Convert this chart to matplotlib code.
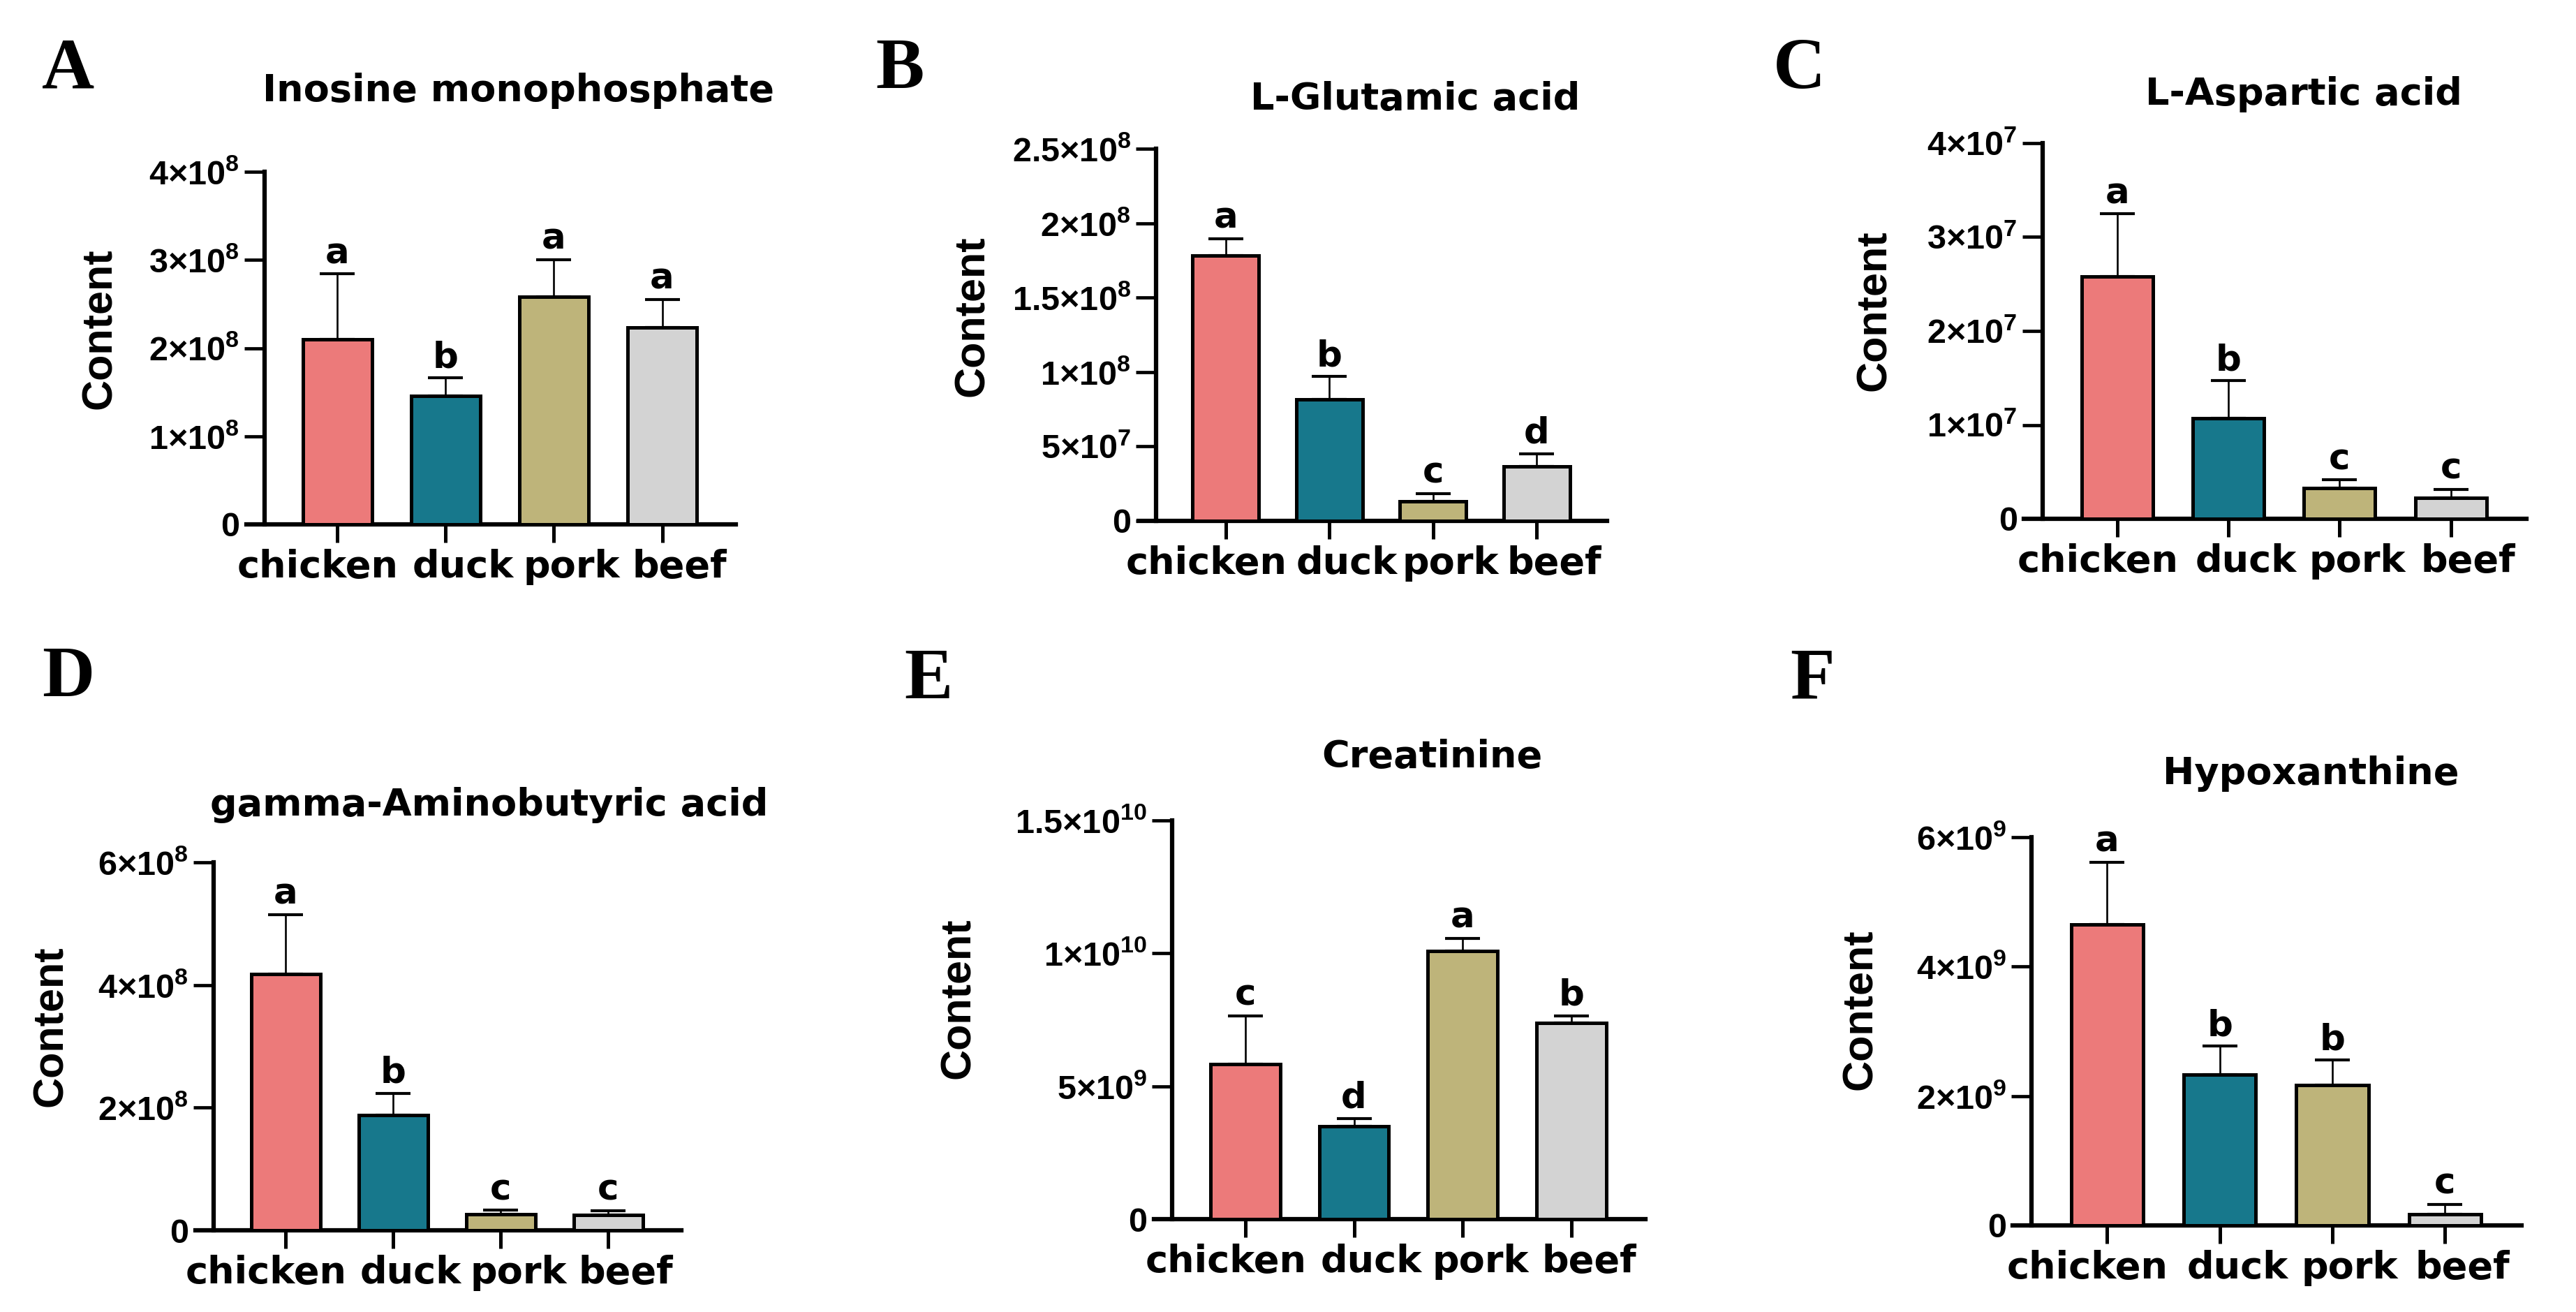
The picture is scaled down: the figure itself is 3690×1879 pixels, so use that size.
import matplotlib
matplotlib.use('Agg')
import matplotlib.pyplot as plt
import numpy as np
from matplotlib.transforms import ScaledTranslation

plt.rcParams['mathtext.fontset'] = 'custom'
plt.rcParams['mathtext.rm'] = 'Liberation Sans'
plt.rcParams['mathtext.bf'] = 'Liberation Sans:bold'
plt.rcParams['mathtext.it'] = 'Liberation Sans:italic'

W, H, DPI = 3690, 1879, 100

# ---------------- data ----------------
categories = ['chicken', 'duck', 'pork', 'beef']
bar_colors = ['#EC7A7A', '#17788C', '#BEB47A', '#D3D3D3']

imp_title = 'Inosine monophosphate'
imp_mean = [2.10e8, 1.46e8, 2.58e8, 2.23e8]
imp_err = [0.74e8, 0.20e8, 0.42e8, 0.32e8]
imp_sig = ['a', 'b', 'a', 'a']
imp_yticks = [0, 1e8, 2e8, 3e8, 4e8]
imp_yticklabels = ['0', r'$\mathbf{1{\times}10^{8}}$', r'$\mathbf{2{\times}10^{8}}$',
                   r'$\mathbf{3{\times}10^{8}}$', r'$\mathbf{4{\times}10^{8}}$']

glu_title = 'L-Glutamic acid'
glu_mean = [1.784e8, 0.815e8, 0.132e8, 0.365e8]
glu_err = [0.112e8, 0.154e8, 0.051e8, 0.084e8]
glu_sig = ['a', 'b', 'c', 'd']
glu_yticks = [0, 5e7, 1e8, 1.5e8, 2e8, 2.5e8]
glu_yticklabels = ['0', r'$\mathbf{5{\times}10^{7}}$', r'$\mathbf{1{\times}10^{8}}$',
                   r'$\mathbf{1.5{\times}10^{8}}$', r'$\mathbf{2{\times}10^{8}}$',
                   r'$\mathbf{2.5{\times}10^{8}}$']

asp_title = 'L-Aspartic acid'
asp_mean = [2.583e7, 1.069e7, 0.325e7, 0.223e7]
asp_err = [0.664e7, 0.401e7, 0.089e7, 0.089e7]
asp_sig = ['a', 'b', 'c', 'c']
asp_yticks = [0, 1e7, 2e7, 3e7, 4e7]
asp_yticklabels = ['0', r'$\mathbf{1{\times}10^{7}}$', r'$\mathbf{2{\times}10^{7}}$',
                   r'$\mathbf{3{\times}10^{7}}$', r'$\mathbf{4{\times}10^{7}}$']

gaba_title = 'gamma-Aminobutyric acid'
gaba_mean = [4.18e8, 1.88e8, 0.26e8, 0.245e8]
gaba_err = [0.97e8, 0.356e8, 0.067e8, 0.075e8]
gaba_sig = ['a', 'b', 'c', 'c']
gaba_yticks = [0, 2e8, 4e8, 6e8]
gaba_yticklabels = ['0', r'$\mathbf{2{\times}10^{8}}$', r'$\mathbf{4{\times}10^{8}}$',
                    r'$\mathbf{6{\times}10^{8}}$']

crea_title = 'Creatinine'
crea_mean = [5.83e9, 3.50e9, 10.08e9, 7.37e9]
crea_err = [1.81e9, 0.28e9, 0.48e9, 0.27e9]
crea_sig = ['c', 'd', 'a', 'b']
crea_yticks = [0, 5e9, 1e10, 1.5e10]
crea_yticklabels = ['0', r'$\mathbf{5{\times}10^{9}}$', r'$\mathbf{1{\times}10^{10}}$',
                    r'$\mathbf{1.5{\times}10^{10}}$']

hypo_title = 'Hypoxanthine'
hypo_mean = [4.655e9, 2.33e9, 2.166e9, 0.175e9]
hypo_err = [0.955e9, 0.44e9, 0.388e9, 0.148e9]
hypo_sig = ['a', 'b', 'b', 'c']
hypo_yticks = [0, 2e9, 4e9, 6e9]
hypo_yticklabels = ['0', r'$\mathbf{2{\times}10^{9}}$', r'$\mathbf{4{\times}10^{9}}$',
                    r'$\mathbf{6{\times}10^{9}}$']

# ---------------- layout (pixels) ----------------
fig = plt.figure(figsize=(W / DPI, H / DPI), dpi=DPI)
fig.patch.set_facecolor('white')

label_dx = [-28, 25, 25, 25]   # horizontal shift of category labels (px)


def panel(box, means, errs, sig, yticks, yticklabels, title, title_xy,
          ylab_xy, letter, letter_xy):
    l, r, b, t = box
    ax = fig.add_axes([l / W, 1 - b / H, (r - l) / W, (b - t) / H])
    x = np.arange(len(categories))
    ax.bar(x, means, width=0.64, color=bar_colors, edgecolor='black',
           linewidth=3.6, zorder=3)
    ax.errorbar(x, means, yerr=[np.zeros(len(means)), errs], fmt='none',
                ecolor='black', elinewidth=1.9, capsize=18, capthick=3.0,
                zorder=2, clip_on=False)
    ax.set_xlim(-0.84, 3.68)
    ax.set_ylim(0, yticks[-1])
    for s in ['top', 'right']:
        ax.spines[s].set_visible(False)
    ax.spines['left'].set_position(('data', -0.67))
    for s in ['left', 'bottom']:
        ax.spines[s].set_linewidth(4.5)
        ax.spines[s].set_capstyle('projecting')
    ax.set_yticks(yticks)
    ax.set_yticklabels(yticklabels)
    ax.set_xticks(x)
    ax.set_xticklabels(categories)
    ax.tick_params(axis='y', direction='out', length=21, width=3.4, pad=5,
                   labelsize=35)
    ax.tick_params(axis='x', direction='out', length=19, width=3.6, pad=6)
    for lab in ax.get_yticklabels():
        lab.set_fontfamily('Liberation Sans')
        lab.set_fontweight('bold')
    for lab, dx in zip(ax.get_xticklabels(), label_dx):
        lab.set_fontfamily('DejaVu Sans')
        lab.set_fontweight('bold')
        lab.set_fontsize(39)
        lab.set_transform(lab.get_transform() +
                          ScaledTranslation(dx / DPI, 0, fig.dpi_scale_trans))
    ax.patch.set_alpha(0)
    for xi, m, e, s in zip(x, means, errs, sig):
        ax.annotate(s, (xi, m + e), xytext=(0, 11), textcoords='offset points',
                    ha='center', va='baseline', fontsize=37,
                    family='DejaVu Sans', weight='bold', annotation_clip=False)
    fig.text(title_xy[0] / W, 1 - title_xy[1] / H, title, ha='center',
             va='baseline', fontsize=39, family='DejaVu Sans', weight='bold')
    fig.text(ylab_xy[0] / W, 1 - ylab_xy[1] / H, 'Content', rotation=90,
             ha='center', va='center', fontsize=44, family='Liberation Sans',
             weight='bold')
    fig.text(letter_xy[0] / W, 1 - letter_xy[1] / H, letter, ha='left',
             va='baseline', fontsize=75, family='Liberation Serif',
             weight='bold')
    return ax


panel((353, 1054, 751, 246), imp_mean, imp_err, imp_sig, imp_yticks,
      imp_yticklabels, imp_title, (743, 145), (143, 471), 'A', (60, 126))
panel((1631, 2302, 746, 213), glu_mean, glu_err, glu_sig, glu_yticks,
      glu_yticklabels, glu_title, (2027, 157), (1394, 453), 'B', (1254, 126))
panel((2899, 3619, 743, 205), asp_mean, asp_err, asp_sig, asp_yticks,
      asp_yticklabels, asp_title, (3300, 150), (2686, 445), 'C', (2540, 126))
panel((280, 976, 1762, 1235), gaba_mean, gaba_err, gaba_sig, gaba_yticks,
      gaba_yticklabels, gaba_title, (701, 1168), (73, 1470), 'D', (60, 997))
panel((1653, 2357, 1746, 1175), crea_mean, crea_err, crea_sig, crea_yticks,
      crea_yticklabels, crea_title, (2051, 1099), (1373, 1430), 'E', (1295, 1000))
panel((2883, 3612, 1755, 1199), hypo_mean, hypo_err, hypo_sig, hypo_yticks,
      hypo_yticklabels, hypo_title, (3310, 1123), (2665, 1446), 'F', (2564, 1000))

fig.savefig('out.png', dpi=DPI, facecolor='white')
